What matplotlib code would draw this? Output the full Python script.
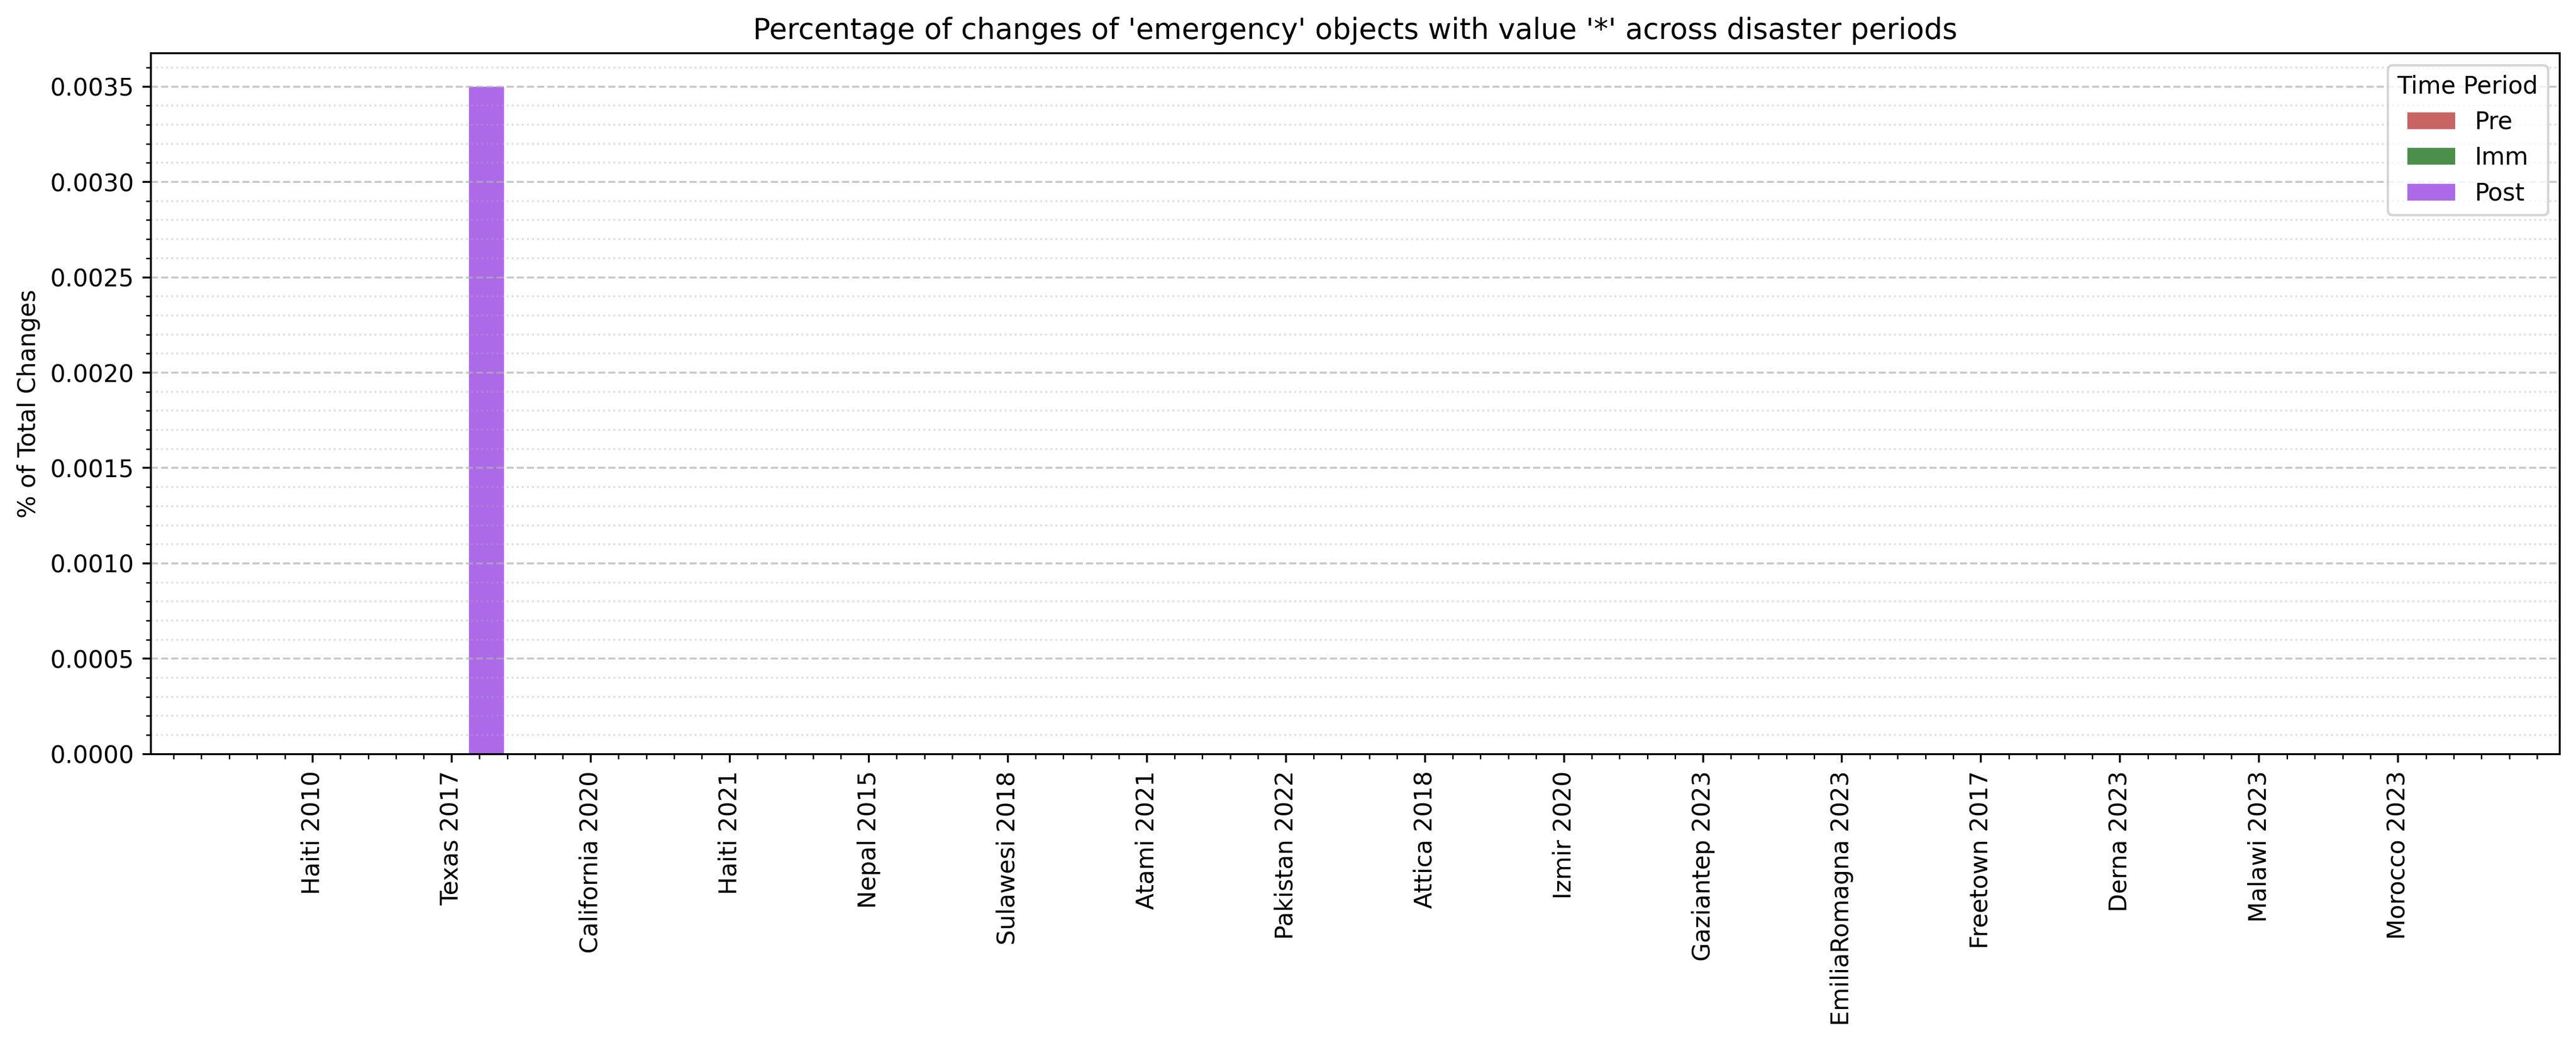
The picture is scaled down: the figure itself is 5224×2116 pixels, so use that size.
import numpy as np
import matplotlib
matplotlib.use("Agg")
import matplotlib.pyplot as plt

# Datos
desastres = ["Haiti 2010", "Texas 2017", "California 2020", "Haiti 2021", "Nepal 2015",
             "Sulawesi 2018", "Atami 2021", "Pakistan 2022", "Attica 2018", "Izmir 2020",
             "Gaziantep 2023", "EmiliaRomagna 2023", "Freetown 2017", "Derna 2023",
             "Malawi 2023", "Morocco 2023"]
periodos = ["Pre", "Imm", "Post"]
pre = [0, 0, 0, 0, 0, 0, 0, 0, 0, 0, 0, 0, 0, 0, 0, 0]
imm = [0, 0, 0, 0, 0, 0, 0, 0, 0, 0, 0, 0, 0, 0, 0, 0]
post = [0, 0.0035, 0, 0, 0, 0, 0, 0, 0, 0, 0, 0, 0, 0, 0, 0]
colores = ["#C86464", "#4C8F4C", "#AD6AE8"]

DPI = 350
fig, ax = plt.subplots(figsize=(5224 / DPI, 2116 / DPI), dpi=DPI)
fig.subplots_adjust(left=0.0586, right=0.9937, top=0.949, bottom=0.277)

x = np.arange(len(desastres))
ancho = 0.25
for i, (serie, nombre) in enumerate(zip([pre, imm, post], periodos)):
    ax.bar(x + (i - 1) * ancho, serie, width=ancho, label=nombre, color=colores[i])

ax.set_xticks(x)
ax.set_xticklabels(desastres, rotation=90)
ax.minorticks_on()
ax.grid(which="major", axis="y", linestyle="--", alpha=0.7)
ax.grid(which="minor", axis="y", linestyle=":", alpha=0.4)
ax.set_ylabel("% of Total Changes")
ax.set_title("Percentage of changes of 'emergency' objects with value '*' across disaster periods")
ax.legend(title="Time Period", loc="upper right")

fig.savefig("out.png", dpi=DPI)
